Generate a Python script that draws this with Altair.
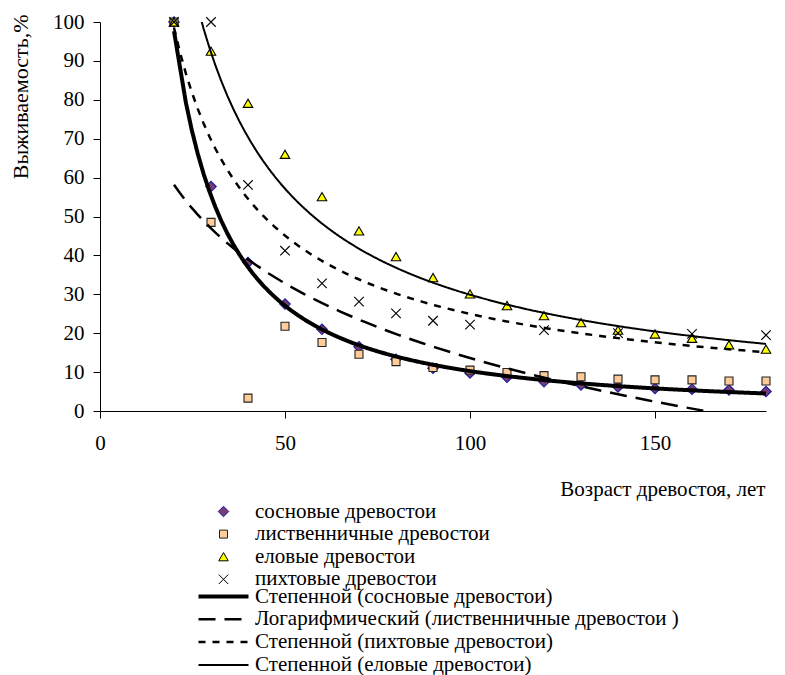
import altair as alt
import pandas as pd

ages = [20, 30, 40, 50, 60, 70, 80, 90, 100, 110, 120, 130, 140, 150, 160, 170, 180]
pine = [100, 57.7, 38.2, 27.5, 21.0, 16.5, 13.3, 11.0, 9.8, 8.7, 7.5, 6.7, 6.2, 5.8, 5.6, 5.4, 5.0]
larch = [100, 48.5, 3.3, 21.8, 17.6, 14.6, 12.7, 11.2, 10.5, 9.9, 9.1, 8.8, 8.2, 8.0, 8.0, 7.7, 7.7]
spruce = [100, 92.5, 79.1, 66.0, 55.1, 46.3, 39.7, 34.3, 30.1, 27.1, 24.5, 22.7, 20.8, 19.8, 18.7, 17.0, 15.9]
fir_ages = [20, 30, 40, 50, 60, 70, 80, 90, 100, 120, 140, 160, 180]
fir = [100, 100, 58.1, 41.2, 32.8, 28.1, 25.1, 23.2, 22.2, 20.8, 20.0, 19.8, 19.5]

series_names = ["сосновые древостои", "лиственничные древостои", "еловые древостои", "пихтовые древостои"]
trend_names = [
    "Степенной (сосновые древостои)",
    "Логарифмический (лиственничные древостои )",
    "Степенной (пихтовые древостои)",
    "Степенной (еловые древостои)",
]

rows = []
for name, xs, ys in [
    (series_names[0], ages, pine),
    (series_names[1], ages, larch),
    (series_names[2], ages, spruce),
    (series_names[3], fir_ages, fir),
]:
    for a, v in zip(xs, ys):
        rows.append({"age": a, "value": v, "series": name})
df = pd.DataFrame(rows)

FONT = "Liberation Serif, Times New Roman, DejaVu Serif, serif"

x_enc = alt.X("age:Q", scale=alt.Scale(domain=[0, 180], nice=False),
              axis=alt.Axis(values=[0, 50, 100, 150], title="Возраст древостоя, лет",
                            titleX=665, titleY=78, titleAlign="right", titleBaseline="middle",
                            labelPadding=14, tickSize=7, labelFlush=False))
y_enc = alt.Y("value:Q", scale=alt.Scale(domain=[0, 100], nice=False),
              axis=alt.Axis(values=list(range(0, 101, 10)), title="Выживаемость,%",
                            titleX=-80, titleY=-8, titleAngle=270, titleAlign="right",
                            titleBaseline="middle", titleFontSize=22,
                            labelPadding=9, tickSize=7))

pt_legend = alt.Legend(orient="none", legendX=113, legendY=479, title=None, padding=0,
                       labelOffset=21, labelFont=FONT, labelFontSize=21, labelColor="black",
                       labelLimit=600, rowPadding=0.6, symbolStrokeWidth=1)

points = alt.Chart(df).mark_point(filled=True, opacity=1, strokeWidth=1.1).encode(
    x=x_enc,
    y=y_enc,
    shape=alt.Shape("series:N", scale=alt.Scale(domain=series_names,
                    range=["diamond", "square", "triangle-up", "M-1,-1L1,1M-1,1L1,-1"]),
                    legend=pt_legend),
    fill=alt.Fill("series:N", scale=alt.Scale(domain=series_names,
                  range=["#7A3C74", "#FFCC99", "#FFFF00", "transparent"]), legend=pt_legend),
    stroke=alt.Stroke("series:N", scale=alt.Scale(domain=series_names,
                      range=["#1A1AA0", "#222222", "#000000", "#000000"]), legend=pt_legend),
    size=alt.Size("series:N", scale=alt.Scale(type="ordinal", domain=series_names,
                  range=[110, 64, 90, 90]), legend=pt_legend),
)

ln_legend = alt.Legend(orient="none", legendX=113, legendY=564, title=None, padding=0,
                       symbolType="M-5,0L5,0", symbolSize=100, labelOffset=21,
                       labelFont=FONT, labelFontSize=21, labelColor="black", labelLimit=600,
                       rowPadding=0.8, symbolStrokeColor="black")
dash_scale = alt.Scale(domain=trend_names, range=[[1, 0], [17, 9], [7, 7], [1, 0]])
width_scale = alt.Scale(type="ordinal", domain=trend_names, range=[4, 2.5, 2.5, 2])


def trend(series, method, label):
    return (
        alt.Chart(df)
        .transform_filter(alt.datum.series == series)
        .transform_regression("age", "value", method=method)
        .transform_calculate(trend=f'"{label}"')
        .mark_line(clip=True, color="black")
        .encode(
            x=x_enc,
            y=y_enc,
            strokeDash=alt.StrokeDash("trend:N", scale=dash_scale, legend=ln_legend),
            strokeWidth=alt.StrokeWidth("trend:N", scale=width_scale, legend=ln_legend),
        )
    )


lines = [
    trend(series_names[0], "pow", trend_names[0]),
    trend(series_names[1], "log", trend_names[1]),
    trend(series_names[3], "pow", trend_names[2]),
    trend(series_names[2], "pow", trend_names[3]),
]

chart = (
    alt.layer(points, *lines)
    .properties(
        width=666, height=389,
        autosize=alt.AutoSizeParams(type="none"),
        padding={"left": 100, "top": 22, "right": 19, "bottom": 264},
        background="white",
    )
    .configure_view(stroke=None)
    .configure_axis(
        labelFont=FONT, labelFontSize=21, labelColor="black",
        titleFont=FONT, titleFontSize=21, titleColor="black", titleFontWeight="normal",
        domainColor="black", tickColor="black", domainWidth=1, tickWidth=1, grid=False,
    )
)

chart.save("out.html", embed_options={"renderer": "svg", "actions": False})
